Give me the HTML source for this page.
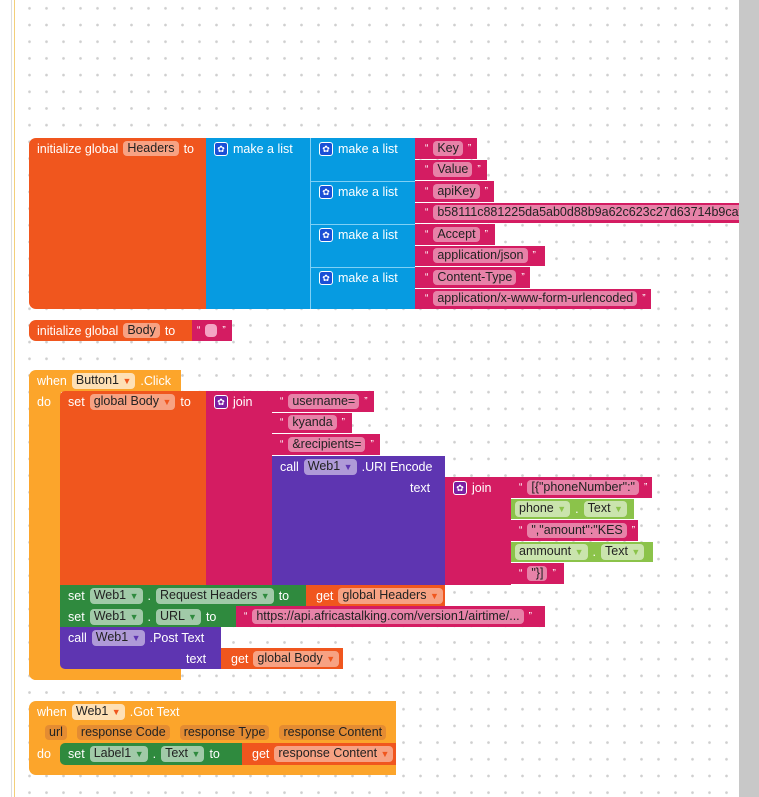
<!DOCTYPE html>
<html><head><meta charset="utf-8"><style>
*{margin:0;padding:0;box-sizing:border-box}
body{width:759px;height:797px;overflow:hidden;background:#fff;font-family:"Liberation Sans",sans-serif;font-size:12.5px;position:relative}
#grid{position:absolute;left:15px;top:0;width:724px;height:797px;
background-image:radial-gradient(circle,#cfcfcf 1.1px,transparent 1.6px);background-size:17px 16.7px;background-position:6px 0px}
#bar{position:absolute;left:739px;top:0;width:20px;height:797px;background:#c8c8c8;z-index:5}
#ln{position:absolute;left:11px;top:0;width:1px;height:797px;background:#ddd}
#ln2{position:absolute;left:14px;top:0;width:1px;height:797px;background:#f3cf7a}
.b{position:absolute}
.r{position:absolute;height:21px;display:flex;align-items:center;color:#fff;white-space:nowrap;gap:5px}
.f{display:inline-block;background:rgba(255,255,255,.45);color:#222;border-radius:4px;padding:0 4px;line-height:15px}
.fy{background:rgba(255,255,255,.65)}
.fg{background:rgba(255,255,255,.55)}
.q{font-size:10px}
.g{display:inline-block;width:14px;height:14px;border-radius:3px;background:#1a4fd6;border:1px solid #fff;color:#fff;font-size:9px;line-height:12px;text-align:center}
.O{background:#f0561e}.B{background:#069be1}.M{background:#d41c62}.P{background:#5e35b1}.G{background:#2f8a3e}.L{background:#8bc34a}.Y{background:#fca52b}
.ar{color:#f0561e;font-size:9px}
</style></head><body>
<div id="grid"></div><div id="ln"></div><div id="ln2"></div><div id="bar"></div>

<div class="b O" style="left:29px;top:138px;width:180px;height:171px;border-radius:7px 0 0 7px"></div>
<div class="b B" style="left:206px;top:138px;width:209px;height:171px"></div>
<div class="b" style="left:310px;top:138px;width:1px;height:171px;background:#7fd0f5"></div>
<div class="b" style="left:310px;top:181px;width:105px;height:1px;background:#7fd0f5"></div>
<div class="b" style="left:310px;top:224px;width:105px;height:1px;background:#7fd0f5"></div>
<div class="b" style="left:310px;top:267px;width:105px;height:1px;background:#7fd0f5"></div>
<div class="r" style="left:37px;top:138px">initialize global <span class="f">Headers</span> to</div>
<div class="r" style="left:214px;top:138px"><span class="g">✿</span> make a list</div>
<div class="r" style="left:319px;top:138px"><span class="g">✿</span> make a list</div>
<div class="r" style="left:319px;top:181px"><span class="g">✿</span> make a list</div>
<div class="r" style="left:319px;top:224px"><span class="g">✿</span> make a list</div>
<div class="r" style="left:319px;top:267px"><span class="g">✿</span> make a list</div>

<div class="b M" style="left:415px;top:138px;width:62px;height:21px"></div>
<div class="r" style="left:425px;top:138px"><span class="q">“</span><span class="f">Key</span><span class="q">”</span></div>
<div class="b M" style="left:415px;top:160px;width:72px;height:20px"></div>
<div class="r" style="left:425px;top:159px"><span class="q">“</span><span class="f">Value</span><span class="q">”</span></div>
<div class="b M" style="left:415px;top:181px;width:79px;height:21px"></div>
<div class="r" style="left:425px;top:181px"><span class="q">“</span><span class="f">apiKey</span><span class="q">”</span></div>
<div class="b M" style="left:415px;top:203px;width:324px;height:20px"></div>
<div class="r" style="left:425px;top:202px"><span class="q">“</span><span class="f">b58111c881225da5ab0d88b9a62c623c27d63714b9caf</span></div>
<div class="b M" style="left:415px;top:224px;width:80px;height:21px"></div>
<div class="r" style="left:425px;top:224px"><span class="q">“</span><span class="f">Accept</span><span class="q">”</span></div>
<div class="b M" style="left:415px;top:246px;width:130px;height:20px"></div>
<div class="r" style="left:425px;top:245px"><span class="q">“</span><span class="f">application/json</span><span class="q">”</span></div>
<div class="b M" style="left:415px;top:267px;width:115px;height:21px"></div>
<div class="r" style="left:425px;top:267px"><span class="q">“</span><span class="f">Content-Type</span><span class="q">”</span></div>
<div class="b M" style="left:415px;top:289px;width:236px;height:20px"></div>
<div class="r" style="left:425px;top:288px"><span class="q">“</span><span class="f">application/x-www-form-urlencoded</span><span class="q">”</span></div>

<div class="b O" style="left:29px;top:320px;width:166px;height:21px;border-radius:7px 0 0 7px"></div>
<div class="b M" style="left:192px;top:320px;width:40px;height:21px"></div>
<div class="r" style="left:37px;top:320px">initialize global <span class="f">Body</span> to</div>
<div class="r" style="left:197px;top:320px"><span class="q">“</span><span class="f" style="width:12px;height:13px;padding:0;background:#f4a3c4"></span><span class="q">”</span></div>

<div class="b Y" style="left:29px;top:370px;width:152px;height:22px;border-radius:7px 0 0 0"></div>
<div class="b Y" style="left:29px;top:390px;width:32px;height:290px;border-radius:0 0 0 7px"></div>
<div class="b Y" style="left:29px;top:660px;width:152px;height:20px;border-radius:0 0 0 7px"></div>
<div class="r" style="left:37px;top:370px">when <span class="f fy">Button1 <span class="ar">▼</span></span> .Click</div>
<div class="r" style="left:37px;top:391px">do</div>

<div class="b O" style="left:60px;top:391px;width:150px;height:194px;border-radius:5px 0 0 0"></div>
<div class="b M" style="left:206px;top:391px;width:66px;height:194px"></div>
<div class="r" style="left:68px;top:391px">set <span class="f">global Body <span class="ar">▼</span></span> to</div>
<div class="r" style="left:214px;top:391px"><span class="g" style="background:#7b1fa2">✿</span> join</div>
<div class="b M" style="left:272px;top:391px;width:102px;height:21px"></div>
<div class="r" style="left:280px;top:391px"><span class="q">“</span><span class="f">username=</span><span class="q">”</span></div>
<div class="b M" style="left:272px;top:413px;width:80px;height:20px"></div>
<div class="r" style="left:280px;top:412px"><span class="q">“</span><span class="f">kyanda</span><span class="q">”</span></div>
<div class="b M" style="left:272px;top:434px;width:108px;height:21px"></div>
<div class="r" style="left:280px;top:434px"><span class="q">“</span><span class="f">&amp;recipients=</span><span class="q">”</span></div>
<div class="b P" style="left:272px;top:456px;width:173px;height:129px"></div>
<div class="r" style="left:280px;top:456px">call <span class="f" style="background:rgba(255,255,255,.5)">Web1 <span style="color:#5e35b1;font-size:9px">▼</span></span> .URI Encode</div>
<div class="r" style="left:410px;top:477px">text</div>
<div class="b M" style="left:445px;top:477px;width:66px;height:108px"></div>
<div class="r" style="left:453px;top:477px"><span class="g" style="background:#7b1fa2">✿</span> join</div>
<div class="b M" style="left:511px;top:477px;width:141px;height:21px"></div>
<div class="r" style="left:519px;top:477px"><span class="q">“</span><span class="f">[{"phoneNumber":"</span><span class="q">”</span></div>
<div class="b L" style="left:511px;top:499px;width:123px;height:20px"></div>
<div class="r" style="left:515px;top:498px"><span class="f fg">phone <span style="color:#8bc34a;font-size:9px">▼</span></span>.<span class="f fg">Text <span style="color:#8bc34a;font-size:9px">▼</span></span></div>
<div class="b M" style="left:511px;top:520px;width:127px;height:21px"></div>
<div class="r" style="left:519px;top:520px"><span class="q">“</span><span class="f">","amount":"KES</span><span class="q">”</span></div>
<div class="b L" style="left:511px;top:542px;width:142px;height:20px"></div>
<div class="r" style="left:515px;top:541px"><span class="f fg">ammount <span style="color:#8bc34a;font-size:9px">▼</span></span>.<span class="f fg">Text <span style="color:#8bc34a;font-size:9px">▼</span></span></div>
<div class="b M" style="left:511px;top:563px;width:53px;height:21px"></div>
<div class="r" style="left:519px;top:563px"><span class="q">“</span><span class="f">"}]</span><span class="q">”</span></div>

<div class="b G" style="left:60px;top:585px;width:246px;height:21px"></div>
<div class="b O" style="left:306px;top:585px;width:139px;height:21px"></div>
<div class="r" style="left:68px;top:585px">set <span class="f fg">Web1 <span style="color:#2f8a3e;font-size:9px">▼</span></span>.<span class="f fg">Request Headers <span style="color:#2f8a3e;font-size:9px">▼</span></span> to</div>
<div class="r" style="left:316px;top:585px">get <span class="f">global Headers <span class="ar">▼</span></span></div>
<div class="b G" style="left:60px;top:606px;width:176px;height:21px"></div>
<div class="b M" style="left:236px;top:606px;width:309px;height:21px"></div>
<div class="r" style="left:68px;top:606px">set <span class="f fg">Web1 <span style="color:#2f8a3e;font-size:9px">▼</span></span>.<span class="f fg">URL <span style="color:#2f8a3e;font-size:9px">▼</span></span> to</div>
<div class="r" style="left:244px;top:606px"><span class="q">“</span><span class="f">https://api.africastalking.com/version1/airtime/...</span><span class="q">”</span></div>
<div class="b P" style="left:60px;top:627px;width:161px;height:42px;border-radius:0 0 0 5px"></div>
<div class="r" style="left:68px;top:627px">call <span class="f" style="background:rgba(255,255,255,.5)">Web1 <span style="color:#5e35b1;font-size:9px">▼</span></span> .Post Text</div>
<div class="r" style="left:186px;top:648px">text</div>
<div class="b O" style="left:221px;top:648px;width:122px;height:21px"></div>
<div class="r" style="left:231px;top:648px">get <span class="f">global Body <span class="ar">▼</span></span></div>

<div class="b Y" style="left:29px;top:701px;width:367px;height:74px;border-radius:7px 0 0 7px"></div>
<div class="r" style="left:37px;top:701px">when <span class="f fy">Web1 <span class="ar">▼</span></span> .Got Text</div>
<div class="r" style="left:45px;top:722px;gap:10px"><span class="f" style="background:rgba(200,110,60,.45)">url</span><span class="f" style="background:rgba(200,110,60,.45)">response Code</span><span class="f" style="background:rgba(200,110,60,.45)">response Type</span><span class="f" style="background:rgba(200,110,60,.45)">response Content</span></div>
<div class="r" style="left:37px;top:743px">do</div>
<div class="b G" style="left:60px;top:743px;width:184px;height:22px;border-radius:5px 0 0 5px"></div>
<div class="b O" style="left:242px;top:743px;width:154px;height:22px"></div>
<div class="r" style="left:68px;top:743px">set <span class="f fg">Label1 <span style="color:#2f8a3e;font-size:9px">▼</span></span>.<span class="f fg">Text <span style="color:#2f8a3e;font-size:9px">▼</span></span> to</div>
<div class="r" style="left:252px;top:743px;width:144px;overflow:hidden">get <span class="f">response Content <span class="ar">▼</span></span></div>
</body></html>
